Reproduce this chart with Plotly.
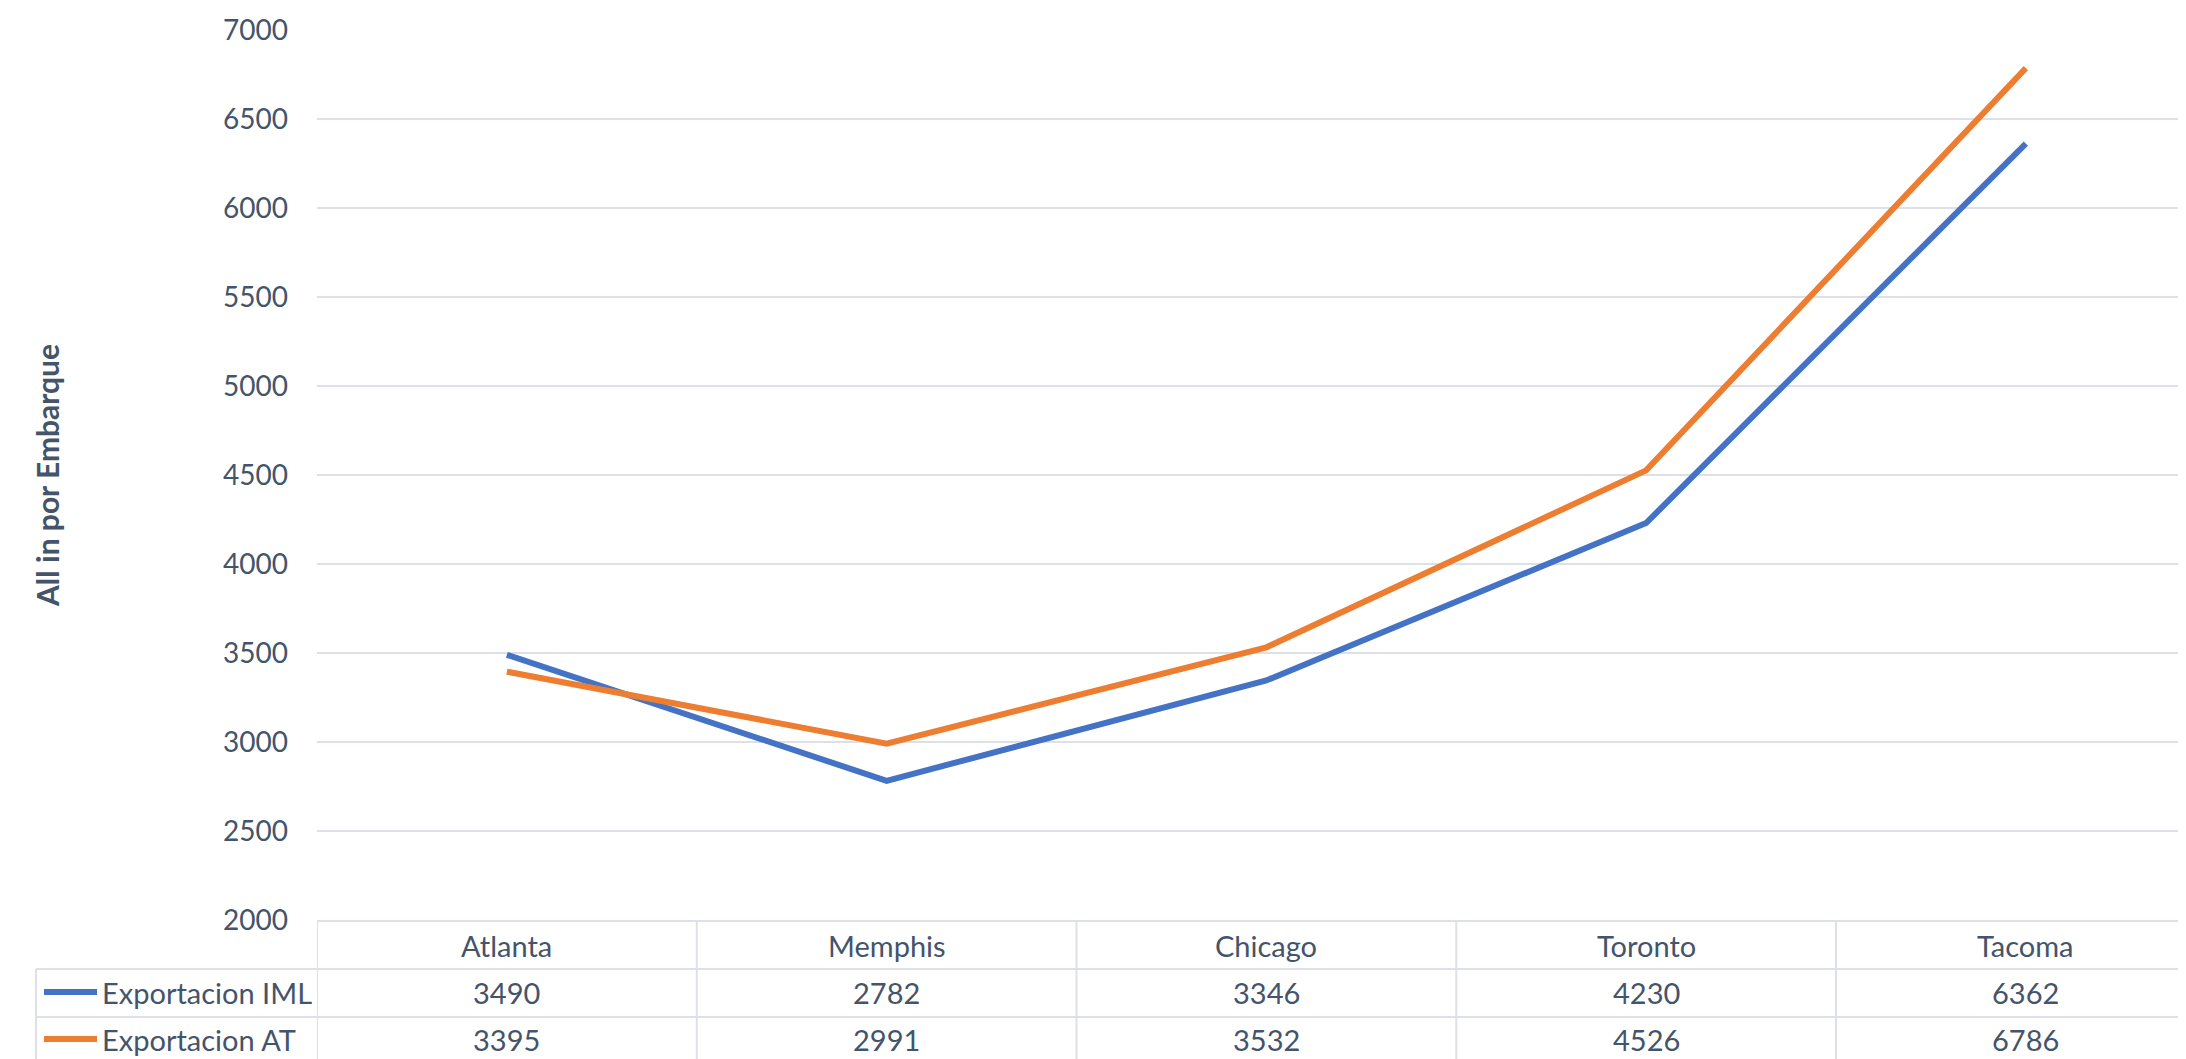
import plotly.graph_objects as go

categories = ["Atlanta", "Memphis", "Chicago", "Toronto", "Tacoma"]
series_names = ["Exportacion IML", "Exportacion AT"]
iml_values = [3490, 2782, 3346, 4230, 6362]
at_values = [3395, 2991, 3532, 4526, 6786]
y_ticks = [2000, 2500, 3000, 3500, 4000, 4500, 5000, 5500, 6000, 6500, 7000]

colors = ["#4472C4", "#ED7D31"]
text_color = "#44546A"
grid_color = "#DDE1E7"
FONT = "Lato"

OFF = 8  # default body margin of the page
W, H = 2186 - OFF, 1059 - OFF
L, R, T = 317 - OFF, 0, 30 - OFF
B = H - (920 - OFF)
PW, PH = W - L - R, H - T - B

def px_x(p):
    return (p - OFF - L) / PW

def px_y(p):
    return (H - B - (p - OFF)) / PH

xs = list(range(len(categories)))
fig = go.Figure()
for name, vals, c in zip(series_names, [iml_values, at_values], colors):
    fig.add_trace(go.Scatter(x=xs, y=vals, mode="lines", name=name,
                             line=dict(color=c, width=6), showlegend=False))

spacing = 379.75
span = PW / spacing
fig.update_xaxes(range=[-0.5, -0.5 + span], showgrid=False, showticklabels=False,
                 zeroline=False, showline=True, linecolor=grid_color, linewidth=2)
fig.update_yaxes(range=[2000, 7000], tickvals=y_ticks, showgrid=True, gridcolor=grid_color,
                 gridwidth=2, zeroline=False, showline=False,
                 tickfont=dict(family=FONT, size=28, color=text_color), ticklabelstandoff=28)

shapes = []
bottom = px_y(1059 + 10)
for i in range(len(categories) + 1):
    shapes.append(dict(type="line", xref="x", yref="paper", x0=i - 0.5, x1=i - 0.5,
                       y0=0, y1=bottom, line=dict(color=grid_color, width=2)))
for py in [969, 1017]:
    shapes.append(dict(type="line", xref="paper", yref="paper", x0=px_x(36), x1=1,
                       y0=px_y(py), y1=px_y(py), line=dict(color=grid_color, width=2)))
shapes.append(dict(type="line", xref="paper", yref="paper", x0=px_x(36), x1=px_x(36),
                   y0=px_y(969), y1=bottom, line=dict(color=grid_color, width=2)))

row_centers = [992, 1039]
annotations = []
for i, cat in enumerate(categories):
    annotations.append(dict(x=i, y=px_y(945), xref="x", yref="paper", text=cat, showarrow=False,
                            xanchor="center", yanchor="middle",
                            font=dict(family=FONT, size=29, color=text_color)))
for name, vals, c, rc in zip(series_names, [iml_values, at_values], colors, row_centers):
    shapes.append(dict(type="line", xref="paper", yref="paper", x0=px_x(44), x1=px_x(97),
                       y0=px_y(rc), y1=px_y(rc), line=dict(color=c, width=6)))
    annotations.append(dict(x=px_x(100), y=px_y(rc), xref="paper", yref="paper", text=name,
                            showarrow=False, xanchor="left", yanchor="middle",
                            font=dict(family=FONT, size=29, color=text_color)))
    for i, v in enumerate(vals):
        annotations.append(dict(x=i, y=px_y(rc), xref="x", yref="paper", text=str(v),
                                showarrow=False, xanchor="center", yanchor="middle",
                                font=dict(family=FONT, size=29, color=text_color)))

annotations.append(dict(x=px_x(47), y=px_y(476), xref="paper", yref="paper",
                        text="<b>All in por Embarque</b>", textangle=-90, showarrow=False,
                        xanchor="center", yanchor="middle",
                        font=dict(family=FONT, size=30, color=text_color)))

fig.update_layout(width=W, height=H, margin=dict(l=L, r=R, t=T, b=B, pad=0),
                  paper_bgcolor="white", plot_bgcolor="white",
                  shapes=shapes, annotations=annotations)

fig.write_html("out.html")
